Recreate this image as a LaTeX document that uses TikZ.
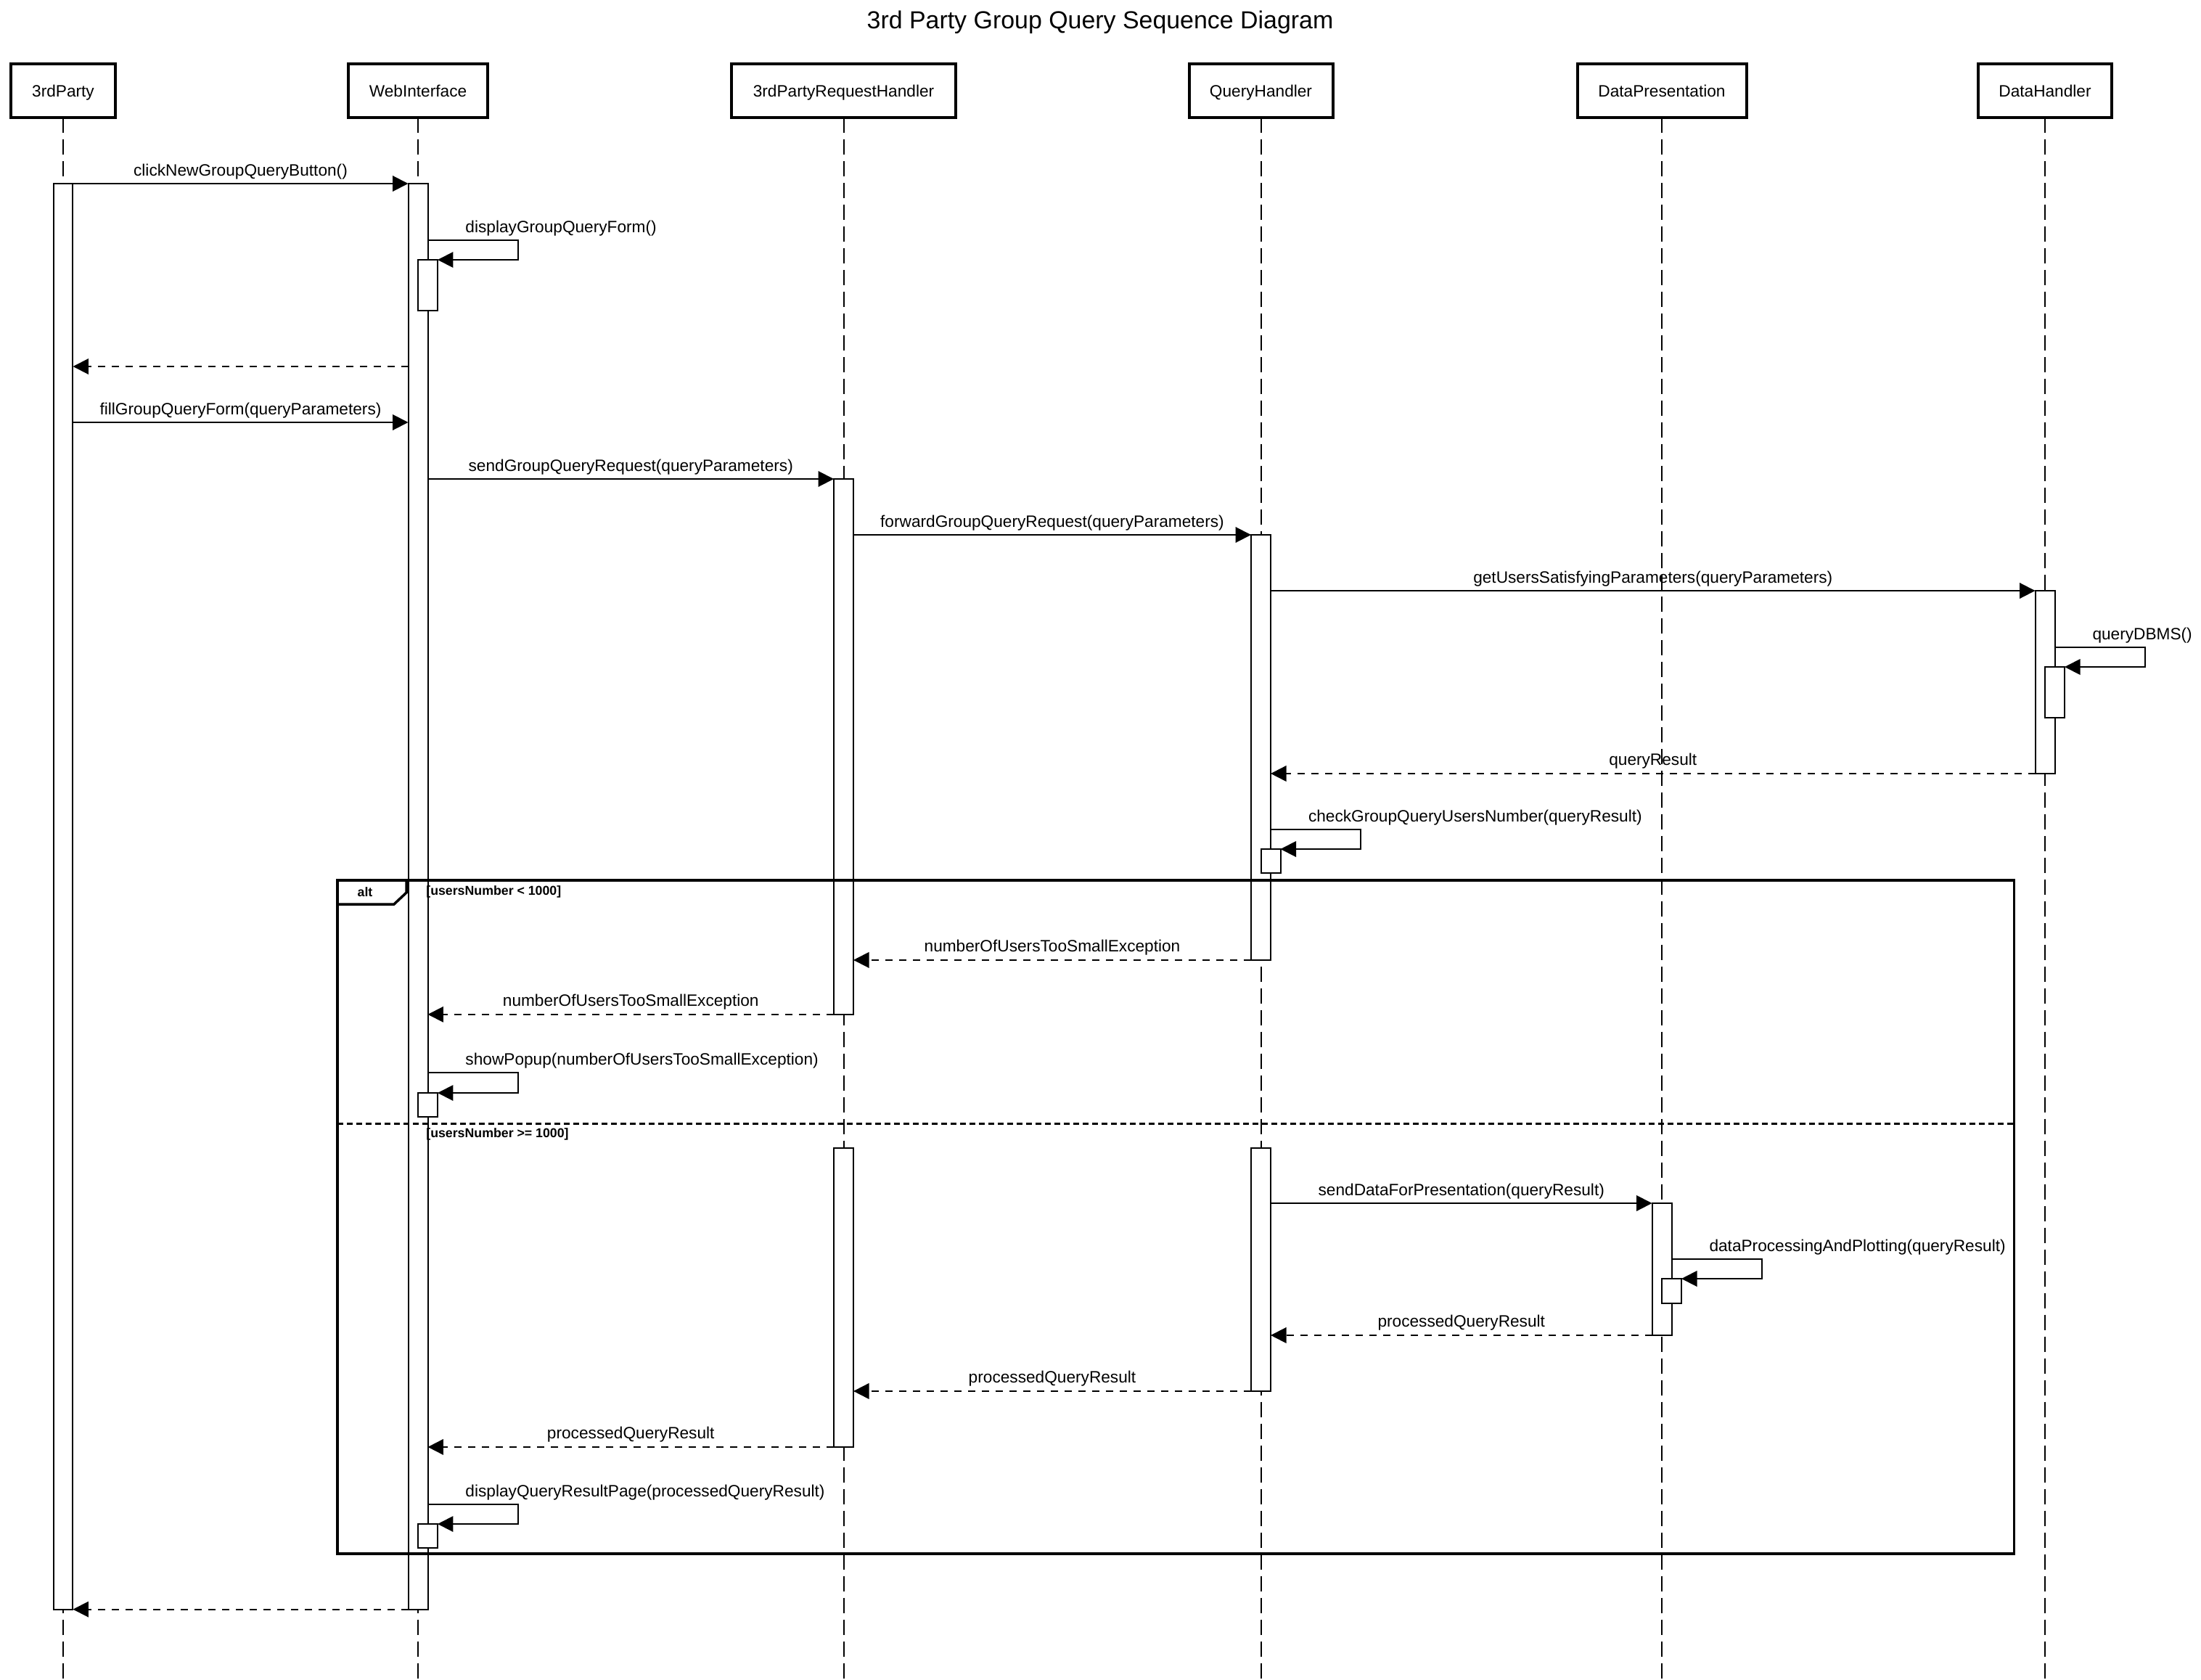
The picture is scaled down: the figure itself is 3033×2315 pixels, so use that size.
\documentclass[tikz,border=0pt]{standalone}
\usepackage{fontspec}
\setmainfont{Liberation Sans}
\usetikzlibrary{arrows.meta,positioning}

\tikzset{
  party/.style={draw, line width=0.08cm, fill=white, minimum height=1.48cm, inner sep=0pt, outer sep=0pt,
    text height=1.2em, text depth=0.21em, font=\fontsize{12.9}{15}\selectfont},
  life/.style={line width=0.04cm, dash pattern=on 0.42cm off 0.18cm},
  act/.style={draw, line width=0.04cm, fill=white, minimum width=0.54cm, inner sep=0pt, outer sep=0pt, anchor=north},
  msg/.style={line width=0.04cm, -{Triangle[length=0.43cm, width=0.43cm]}},
  reply/.style={msg, dash pattern=on 0.2cm off 0.18cm},
  lbl/.style={font=\fontsize{12.9}{15}\selectfont, inner sep=0pt, anchor=base, yshift=0.22cm},
  selflbl/.style={lbl, anchor=base west, xshift=1.02cm},
  guard/.style={font=\bfseries\fontsize{10.1}{12}\selectfont, inner sep=0pt},
  frame/.style={draw, line width=0.07cm, inner sep=0pt, outer sep=0pt, anchor=north west},
}

\begin{document}
\begin{tikzpicture}[x=0.02cm, y=-0.02cm]
  \path[use as bounding box, fill=white] (0,0) rectangle (3033,2315);

  \node[font=\fontsize{19.3}{23}\selectfont] (title) at (1516,31) {3rd Party Group Query Sequence Diagram};

  % participants
  \node[party, minimum width=2.88cm] (p3rd) at (87,125) {3rdParty};
  \node[party, minimum width=3.86cm] (pweb) at (576,125) {WebInterface};
  \node[party, minimum width=6.18cm] (prh) at (1162.5,125) {3rdPartyRequestHandler};
  \node[party, minimum width=3.96cm] (pqh) at (1737.5,125) {QueryHandler};
  \node[party, minimum width=4.66cm] (pdp) at (2290,125) {DataPresentation};
  \node[party, minimum width=3.68cm] (pdh) at (2818,125) {DataHandler};

  \foreach \p in {p3rd,pweb,prh,pqh,pdp,pdh}
    \draw[life] (\p.south) -- (\p.south |- 0,2315);

  % activations
  \node[act, minimum height=39.3cm] (a3rd) at (p3rd |- 0,253) {};
  \node[act, minimum height=39.3cm] (aweb) at (pweb |- 0,253) {};
  \node[act, minimum height=1.4cm] (sweb1) at (aweb.east |- 0,358) {};
  \node[act, minimum height=14.76cm] (arh1) at (prh |- 0,660) {};
  \node[act, minimum height=11.72cm] (aqh1) at (pqh |- 0,737) {};
  \node[act, minimum height=5.04cm] (adh) at (pdh |- 0,814) {};
  \node[act, minimum height=1.4cm] (sdh) at (adh.east |- 0,919) {};
  \node[act, minimum height=0.66cm] (sqh) at (aqh1.east |- 0,1170) {};
  \node[act, minimum height=0.66cm] (sweb2) at (aweb.east |- 0,1506) {};
  \node[act, minimum height=8.24cm] (arh2) at (prh |- 0,1582) {};
  \node[act, minimum height=6.7cm] (aqh2) at (pqh |- 0,1582) {};
  \node[act, minimum height=3.64cm] (adp) at (pdp |- 0,1658) {};
  \node[act, minimum height=0.68cm] (sdp) at (adp.east |- 0,1762) {};
  \node[act, minimum height=0.66cm] (sweb3) at (aweb.east |- 0,2100) {};

  % messages
  \draw[msg] (a3rd.north east) -- node[lbl] (m1) {clickNewGroupQueryButton()} (aweb.north west);
  \draw[msg] (aweb.east |- 0,331) node[selflbl] (m2) {displayGroupQueryForm()} -- ++(124,0) |- (sweb1.north east);
  \draw[reply] (aweb.west |- 0,505) -- (a3rd.east |- 0,505);
  \draw[msg] (a3rd.east |- 0,582) -- node[lbl] (m4) {fillGroupQueryForm(queryParameters)} (aweb.west |- 0,582);
  \draw[msg] (aweb.east |- 0,660) -- node[lbl] (m5) {sendGroupQueryRequest(queryParameters)} (arh1.north west);
  \draw[msg] (arh1.east |- 0,737) -- node[lbl] (m6) {forwardGroupQueryRequest(queryParameters)} (aqh1.north west);
  \draw[msg] (aqh1.east |- 0,814) -- node[lbl] (m7) {getUsersSatisfyingParameters(queryParameters)} (adh.north west);
  \draw[msg] (adh.east |- 0,892) node[selflbl] (m8) {queryDBMS()} -- ++(124,0) |- (sdh.north east);
  \draw[reply] (adh.south west) -- node[lbl] (m9) {queryResult} (aqh1.east |- adh.south);
  \draw[msg] (aqh1.east |- 0,1143) node[selflbl] (m10) {checkGroupQueryUsersNumber(queryResult)} -- ++(124,0) |- (sqh.north east);

  \draw[reply] (aqh1.south west) -- node[lbl] (m11) {numberOfUsersTooSmallException} (arh1.east |- aqh1.south);
  \draw[reply] (arh1.south west) -- node[lbl] (m12) {numberOfUsersTooSmallException} (aweb.east |- arh1.south);
  \draw[msg] (aweb.east |- 0,1478) node[selflbl] (m13) {showPopup(numberOfUsersTooSmallException)} -- ++(124,0) |- (sweb2.north east);

  \draw[msg] (aqh2.east |- 0,1658) -- node[lbl] (m14) {sendDataForPresentation(queryResult)} (adp.north west);
  \draw[msg] (adp.east |- 0,1735) node[selflbl] (m15) {dataProcessingAndPlotting(queryResult)} -- ++(124,0) |- (sdp.north east);
  \draw[reply] (adp.south west) -- node[lbl] (m16) {processedQueryResult} (aqh2.east |- adp.south);
  \draw[reply] (aqh2.south west) -- node[lbl] (m17) {processedQueryResult} (arh2.east |- aqh2.south);
  \draw[reply] (arh2.south west) -- node[lbl] (m18) {processedQueryResult} (aweb.east |- arh2.south);
  \draw[msg] (aweb.east |- 0,2073) node[selflbl] (m19) {displayQueryResultPage(processedQueryResult)} -- ++(124,0) |- (sweb3.north east);
  \draw[reply] (aweb.south west) -- (a3rd.south east);

  % alt fragment
  \node[frame, minimum width=46.22cm, minimum height=18.56cm] (altbox) at (465,1213) {};
  \draw[line width=0.07cm] (altbox.north west) ++(0,33) -- ++(78,0) -- ++(17,-16) -- ++(0,-17);
  \node[guard] (altname) at (503,1229) {alt};
  \node[guard, anchor=west] (g1) at (587,1229) {[usersNumber < 1000]};
  \draw[line width=0.06cm, dash pattern=on 0.16cm off 0.1cm] (altbox.west |- 0,1548) -- (altbox.east |- 0,1548);
  \node[guard, anchor=west] (g2) at (587,1563) {[usersNumber >= 1000]};
\end{tikzpicture}
\end{document}
